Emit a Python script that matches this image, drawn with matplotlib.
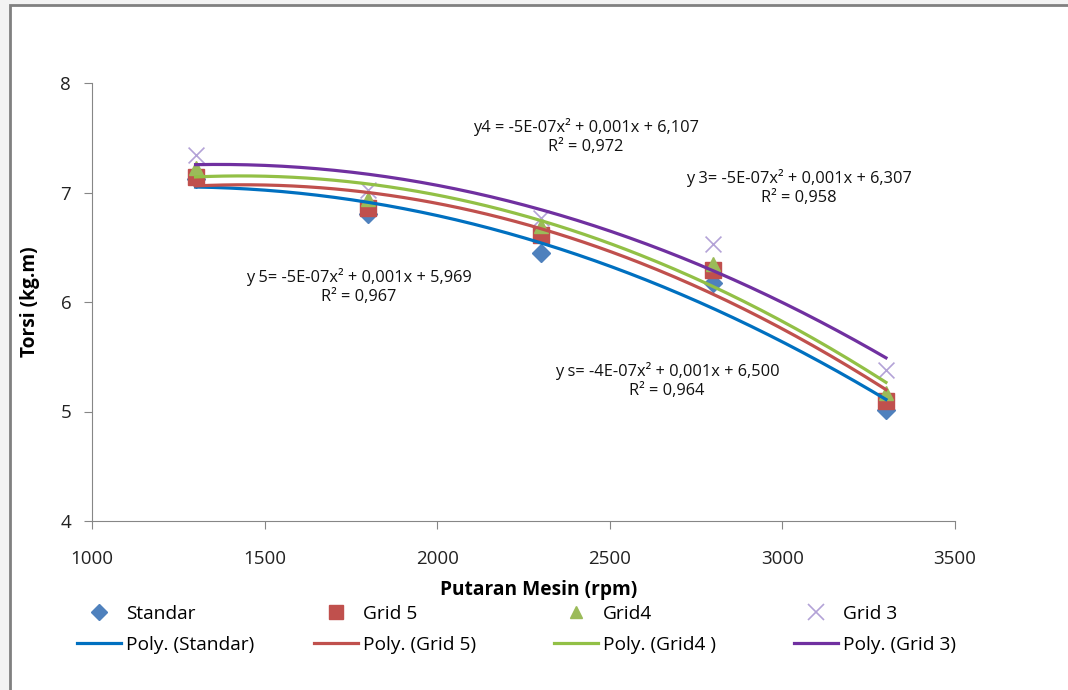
import numpy as np
import matplotlib.pyplot as plt
from matplotlib.lines import Line2D
from matplotlib.patches import Rectangle

rpm = [1300, 1800, 2300, 2800, 3300]
standar = [7.12, 6.80, 6.45, 6.17, 5.01]
grid5 = [7.14, 6.86, 6.61, 6.29, 5.10]
grid4 = [7.22, 6.94, 6.69, 6.35, 5.17]
grid3 = [7.34, 7.02, 6.77, 6.53, 5.38]

series = [
    ('Standar', standar, 'D', '#4F81BD', '#0070C0', 'Poly. (Standar)'),
    ('Grid 5', grid5, 's', '#C0504D', '#C0504D', 'Poly. (Grid 5)'),
    ('Grid4', grid4, '^', '#9BBB59', '#92C046', 'Poly. (Grid4 )'),
    ('Grid 3', grid3, 'x', '#B3A2D7', '#7030A0', 'Poly. (Grid 3)'),
]

eqs = [
    ('y4 = -5E-07x\u00b2 + 0,001x + 6,107', 'R\u00b2 = 0,972', 586, 127),
    ('y 3= -5E-07x\u00b2 + 0,001x + 6,307', 'R\u00b2 = 0,958', 799, 178),
    ('y 5= -5E-07x\u00b2 + 0,001x + 5,969', 'R\u00b2 = 0,967', 359, 277),
    ('y s= -4E-07x\u00b2 + 0,001x + 6,500', 'R\u00b2 = 0,964', 667, 371),
]

plt.rcParams['font.family'] = ['Open Sans', 'DejaVu Sans']

W, H = 1068, 690
fig = plt.figure(figsize=(W / 100, H / 100), dpi=100, facecolor='#f3f3f3')
# chart frame (only top and left edges are inside the picture)
fig.patches.append(Rectangle((10 / W, -0.05), 1.05, 1 - 5 / H + 0.05, transform=fig.transFigure,
                             facecolor='white', edgecolor='#808080', linewidth=2, zorder=-5))

ax = fig.add_axes([92 / W, 1 - 521 / H, (955 - 92) / W, (521 - 83) / H])
ax.set_facecolor('none')

msize = {'D': 9, 's': 11, '^': 10}
xs = np.linspace(1300, 3300, 200)
legend_cols = []
for name, vals, mk, mc, lc, pname in series:
    if mk == 'x':
        ax.scatter(rpm, vals, marker='x', s=130, color=mc, linewidths=1.2, zorder=3)
        mh = Line2D([], [], marker='x', color=mc, linestyle='none', markersize=11, markeredgewidth=1.2)
    else:
        ax.plot(rpm, vals, linestyle='none', marker=mk, markersize=msize[mk], color=mc, zorder=3)
        mh = Line2D([], [], marker=mk, color=mc, linestyle='none', markersize=msize[mk] - 1)
    c = np.polyfit(rpm, vals, 2)
    ax.plot(xs, np.polyval(c, xs), color=lc, linewidth=2.3, zorder=4)
    legend_cols.append(([mh, Line2D([], [], color=lc, linewidth=2.3)], [name, pname]))

ax.set_xlim(1000, 3500)
ax.set_ylim(4, 8)
ax.set_xticks([1000, 1500, 2000, 2500, 3000, 3500])
ax.set_yticks([4, 5, 6, 7, 8])
for s in ['top', 'right']:
    ax.spines[s].set_visible(False)
for s in ['left', 'bottom']:
    ax.spines[s].set_color('#868686')
ax.tick_params(direction='out', length=6, color='#868686', labelsize=13.5, labelcolor='#222222')
ax.tick_params(axis='x', pad=15)
ax.tick_params(axis='y', pad=9)
ax.set_xlabel('Putaran Mesin (rpm)', fontsize=13.8, fontweight='bold')
ax.set_ylabel('Torsi (kg.m)', fontsize=13.8, fontweight='bold')
ax.xaxis.set_label_coords(((441 + 637) / 2 - 92) / (955 - 92), -(580 - 521) / (521 - 83))
ax.yaxis.set_label_coords(-(92 - 40) / (955 - 92), ((521 + 83) / 2 - 302) / (521 - 83) + 0.5)

for eq, r2, px, py in eqs:
    fig.text(px / W, 1 - py / H, eq, ha='center', va='center', fontsize=11.8, color='#111111')
    fig.text(px / W, 1 - (py + 20) / H, r2, ha='center', va='center', fontsize=11.8, color='#111111')

col_x = [77, 314, 554, 794]
for (hs, ls), cx in zip(legend_cols, col_x):
    fig.legend(hs, ls, loc='upper left', bbox_to_anchor=(cx / W, 1 - 605 / H),
               frameon=False, fontsize=13.8, handlelength=2.3, handletextpad=0.25,
               labelspacing=0.68, borderpad=0, borderaxespad=0)

fig.savefig('out.png', dpi=100, facecolor=fig.get_facecolor())
